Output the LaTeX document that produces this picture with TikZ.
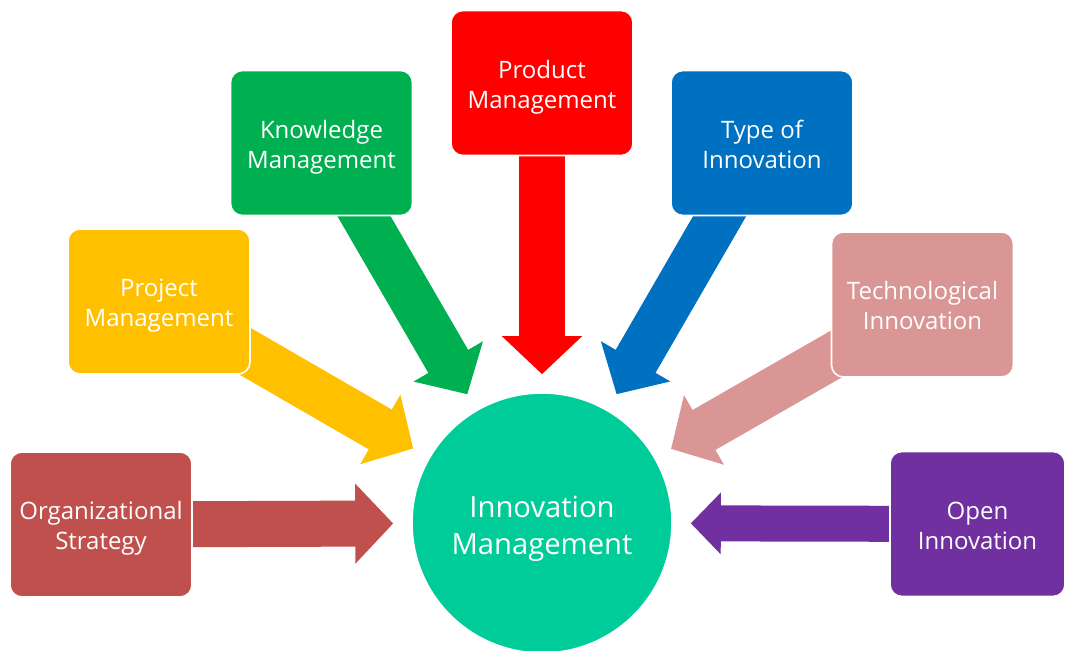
\documentclass[tikz,border=0pt]{standalone}
\usepackage{fontspec}
\setmainfont{Open Sans}
\usetikzlibrary{arrows.meta,backgrounds}

\definecolor{orgred}{HTML}{C0504D}
\definecolor{projyellow}{HTML}{FFC000}
\definecolor{knowgreen}{HTML}{00B050}
\definecolor{prodred}{HTML}{FF0000}
\definecolor{typeblue}{HTML}{0070C0}
\definecolor{techpink}{HTML}{D99694}
\definecolor{openpurple}{HTML}{7030A0}
\definecolor{innovteal}{HTML}{00CC99}

\tikzset{
  box/.style={rectangle, rounded corners=6pt, draw=white, line width=0.8pt,
    minimum width=91pt, minimum height=72.5pt, inner sep=0pt, align=center,
    text height=28pt, text depth=2.5pt,
    text=white, font=\fontsize{12}{15}\selectfont},
  fat/.style={line width=23pt, -{Triangle[length=19pt,width=39pt]}, shorten >=9pt},
  slim/.style={line width=18pt, -{Triangle[length=15pt,width=30pt]}, shorten >=9pt}
}

\begin{document}
\begin{tikzpicture}[x=0.5pt,y=-0.5pt]%
    \useasboundingbox (0,0) rectangle (1065,651);

    \node [circle, fill=innovteal, draw=white, line width=0.8pt, minimum size=130pt,
           align=center, text=white, text height=35pt, text depth=4pt,
           font=\fontsize{14.6}{18}\selectfont]
          at (542,523) (innov) {Innovation\\Management};

    \node [box, fill=orgred]     at (101,524.5) (org)  {Organizational\\Strategy};
    \node [box, fill=projyellow] at (159,301.5) (proj) {Project\\Management};
    \node [box, fill=knowgreen]  at (321.5,143) (know) {Knowledge\\Management};
    \node [box, fill=prodred]    at (542,83)    (prod) {Product\\Management};
    \node [box, fill=typeblue]   at (762,143)   (type) {Type of\\Innovation};
    \node [box, fill=techpink]   at (922.5,304.5) (tech) {Technological\\Innovation};
    \node [box, fill=openpurple, minimum width=87.5pt] at (977.5,524) (open) {Open\\Innovation};

    % block arrows run under the boxes
    \begin{pgfonlayer}{background}
      \draw [fat, orgred]     (org.center)  -- (innov);
      \draw [fat, projyellow] (proj.center) -- (innov);
      \draw [fat, knowgreen]  (know.center) -- (innov);
      \draw [fat, prodred]    (prod.center) -- (innov);
      \draw [fat, typeblue]   (type.center) -- (innov);
      \draw [fat, techpink]   (tech.center) -- (innov);
      \draw [slim, openpurple] (open.center) -- (innov);
    \end{pgfonlayer}
\end{tikzpicture}
\end{document}
